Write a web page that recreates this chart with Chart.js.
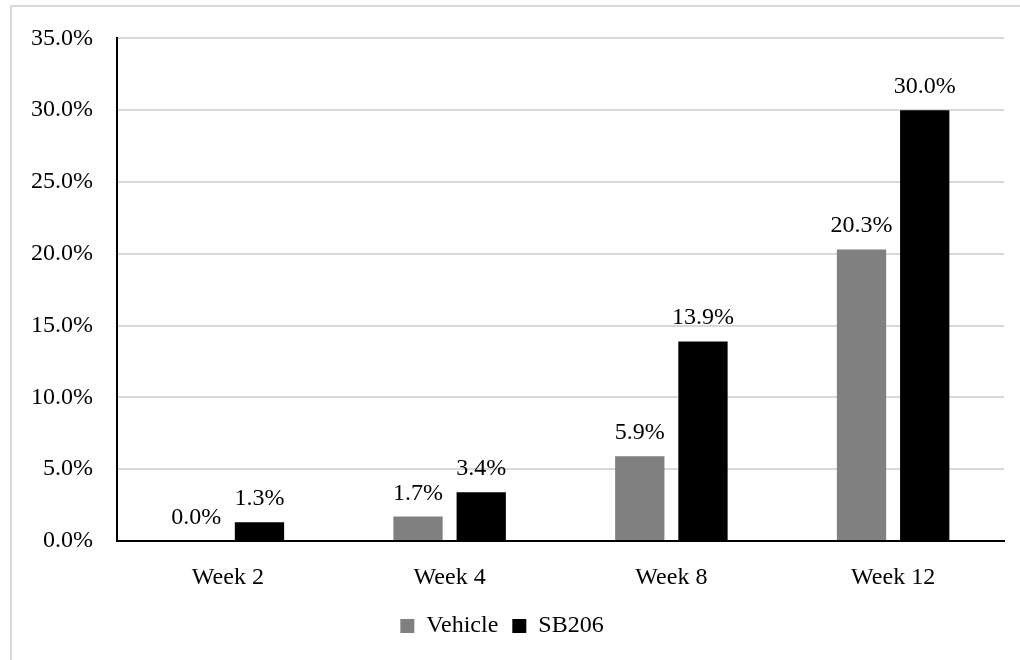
<!DOCTYPE html>
<html>
<head>
<meta charset="utf-8">
<script src="https://cdn.jsdelivr.net/npm/chart.js@4/dist/chart.umd.min.js"></script>
<style>
  html, body { margin: 0; padding: 0; background: #fff; }
  #wrap { position: absolute; left: 0; top: 0; width: 1020px; height: 660px; }
  #frame { position: absolute; left: 10px; top: 5px; width: 1100px; height: 800px;
           border: 2px solid #d9d9d9; box-sizing: border-box; }
  canvas { position: absolute; left: 0; top: 0; }
</style>
</head>
<body>
<div id="wrap">
  <div id="frame"></div>
  <canvas id="weekChart" width="1020" height="660"></canvas>
</div>
<script>
// 데이터
const weeks = ['Week 2', 'Week 4', 'Week 8', 'Week 12'];
const vehicleValues = [0.0, 1.7, 5.9, 20.3];
const sb206Values = [1.3, 3.4, 13.9, 30.0];
const yTicks = [0, 5, 10, 15, 20, 25, 30, 35];

const FONT = '"Liberation Serif", "Times New Roman", serif';

// 막대 위에 값 표시
const valueLabels = {
    id: 'valueLabels',
    afterDatasetsDraw(chart) {
        const ctx = chart.ctx;
        ctx.save();
        ctx.font = '24px ' + FONT;
        ctx.fillStyle = '#000';
        ctx.textAlign = 'center';
        ctx.textBaseline = 'alphabetic';
        chart.data.datasets.forEach((ds, i) => {
            chart.getDatasetMeta(i).data.forEach((bar, j) => {
                ctx.fillText(ds.data[j].toFixed(1) + '%', bar.x, bar.y - 17);
            });
        });
        ctx.restore();
    }
};

const ctx = document.getElementById('weekChart').getContext('2d');

new Chart(ctx, {
    type: 'bar',
    data: {
        labels: weeks,
        datasets: [
            {
                label: 'Vehicle',
                data: vehicleValues,
                backgroundColor: '#808080',
                categoryPercentage: 0.57,
                barPercentage: 0.78
            },
            {
                label: 'SB206',
                data: sb206Values,
                backgroundColor: '#000000',
                categoryPercentage: 0.57,
                barPercentage: 0.78
            }
        ]
    },
    options: {
        responsive: false,
        animation: false,
        layout: { padding: { left: 0, right: 16, top: 36, bottom: 12 } },
        plugins: {
            tooltip: { enabled: false },
            legend: {
                position: 'bottom',
                labels: {
                    boxWidth: 14,
                    boxHeight: 14,
                    padding: 14,
                    color: '#000',
                    font: { family: FONT, size: 24 }
                }
            }
        },
        scales: {
            x: {
                grid: { display: false, drawTicks: false },
                border: { color: '#000', width: 2 },
                ticks: { color: '#000', padding: 22, font: { family: FONT, size: 24 } },
                afterFit(scale) { scale.height = 59; }
            },
            y: {
                min: 0,
                max: 35,
                afterBuildTicks(scale) { scale.ticks = yTicks.map(v => ({ value: v })); },
                grid: { color: '#d9d9d9', lineWidth: 2, drawTicks: false },
                border: { color: '#000', width: 2 },
                ticks: {
                    color: '#000',
                    padding: 24,
                    font: { family: FONT, size: 24 },
                    callback: v => v.toFixed(1) + '%'
                },
                afterFit(scale) { scale.width = 117; }
            }
        }
    },
    plugins: [valueLabels]
});
</script>
</body>
</html>
